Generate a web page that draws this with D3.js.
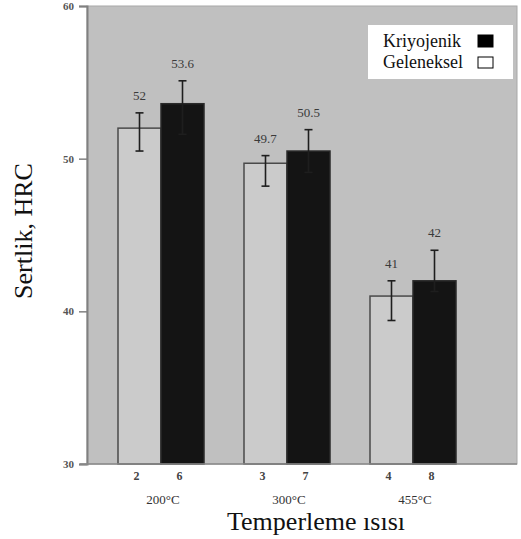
<!DOCTYPE html>
<html lang="tr">
<head>
<meta charset="UTF-8">
<title>Sertlik</title>
<script src="https://d3js.org/d3.v7.min.js"></script>
<style>
  body { margin: 0; background: #fff; }
  text { font-family: "Liberation Serif", "DejaVu Serif", serif; }
</style>
</head>
<body>
<svg id="canvas" width="521" height="539"></svg>
<script>
// data
const groups = ["200°C", "300°C", "455°C"];
const series = ["Geleneksel", "Kriyojenik"];
const geleneksel = [52, 49.7, 41];
const kriyojenik = [53.6, 50.5, 42];
const gelLow = [50.5, 48.2, 39.4];
const gelHigh = [53.0, 50.2, 42.0];
const kriLow = [51.6, 49.1, 41.3];
const kriHigh = [55.1, 51.9, 44.0];
const gelSample = ["2", "3", "4"];
const kriSample = ["6", "7", "8"];
const yTicks = [30, 40, 50, 60];

const colors = { Geleneksel: "#cbcbcb", Kriyojenik: "#141414" };

const rows = [];
groups.forEach((g, i) => {
  rows.push({ group: g, s: "Geleneksel", v: geleneksel[i], lo: gelLow[i], hi: gelHigh[i], id: gelSample[i] });
  rows.push({ group: g, s: "Kriyojenik", v: kriyojenik[i], lo: kriLow[i], hi: kriHigh[i], id: kriSample[i] });
});

const svg = d3.select("#canvas");
const plot = { left: 87, right: 517, top: 6, bottom: 464 };

const y = d3.scaleLinear().domain([30, 60]).range([plot.bottom, plot.top]);
const x0 = d3.scaleBand().domain(groups).range([98, 476]).padding(0);
const x1 = d3.scaleBand().domain(series).range([0, x0.bandwidth()]).paddingOuter(0.465).paddingInner(0);

// plot background
svg.append("rect")
  .attr("x", plot.left).attr("y", plot.top)
  .attr("width", plot.right - plot.left).attr("height", plot.bottom - plot.top)
  .attr("fill", "#c0c0c0")
  .attr("stroke", "#a8a8a8").attr("stroke-width", 1);

// bars
svg.selectAll(".bar")
  .data(rows)
  .enter()
  .append("rect")
  .attr("class", "bar")
  .attr("x", d => x0(d.group) + x1(d.s))
  .attr("y", d => y(d.v))
  .attr("width", x1.bandwidth())
  .attr("height", d => y(30) - y(d.v))
  .attr("fill", d => colors[d.s])
  .attr("stroke", d => d.s === "Geleneksel" ? "#4a4a4a" : "#2a2a2a")
  .attr("stroke-width", 1.5);

// error bars
const cx = d => x0(d.group) + x1(d.s) + x1.bandwidth() / 2;
const err = svg.selectAll(".err").data(rows).enter().append("g").attr("class", "err")
  .attr("stroke", "#1e1e1e").attr("stroke-width", 1.6);
err.append("line").attr("x1", cx).attr("x2", cx).attr("y1", d => y(d.lo)).attr("y2", d => y(d.hi));
err.append("line").attr("x1", d => cx(d) - 4).attr("x2", d => cx(d) + 4).attr("y1", d => y(d.lo)).attr("y2", d => y(d.lo));
err.append("line").attr("x1", d => cx(d) - 4).attr("x2", d => cx(d) + 4).attr("y1", d => y(d.hi)).attr("y2", d => y(d.hi));

// value labels
svg.selectAll(".val").data(rows).enter().append("text")
  .attr("class", "val")
  .attr("x", cx)
  .attr("y", d => y(d.hi) - 13)
  .attr("text-anchor", "middle")
  .attr("font-size", 13)
  .attr("fill", "#3a3a3a")
  .text(d => d.v);

// sample ids under bars
svg.selectAll(".sid").data(rows).enter().append("text")
  .attr("class", "sid")
  .attr("x", d => cx(d) - 3)
  .attr("y", 480)
  .attr("text-anchor", "middle")
  .attr("font-size", 12)
  .attr("font-weight", "bold")
  .attr("fill", "#444")
  .text(d => d.id);

// group labels
svg.selectAll(".grp").data(groups).enter().append("text")
  .attr("class", "grp")
  .attr("x", d => x0(d) + x0.bandwidth() / 2 + 2)
  .attr("y", 504)
  .attr("text-anchor", "middle")
  .attr("font-size", 13)
  .attr("fill", "#333")
  .text(d => d);

// y axis
const yAxis = svg.append("g")
  .attr("transform", `translate(${plot.left},0)`)
  .call(d3.axisLeft(y).tickValues(yTicks).tickSize(8).tickPadding(5));
yAxis.select(".domain").attr("stroke", "#808080").attr("stroke-width", 2);
yAxis.selectAll(".tick line").attr("stroke", "#808080").attr("stroke-width", 1.5);
yAxis.selectAll(".tick text")
  .attr("font-family", "Liberation Serif, serif")
  .attr("font-size", 11).attr("font-weight", "bold").attr("fill", "#555");

// bottom line
svg.append("line")
  .attr("x1", 80).attr("x2", plot.right)
  .attr("y1", plot.bottom).attr("y2", plot.bottom)
  .attr("stroke", "#8a8a8a").attr("stroke-width", 1.5);

// axis titles
svg.append("text")
  .attr("x", 316).attr("y", 530)
  .attr("text-anchor", "middle")
  .attr("font-size", 26)
  .attr("fill", "#111")
  .text("Temperleme ısısı");

svg.append("text")
  .attr("transform", "translate(32,231) rotate(-90)")
  .attr("text-anchor", "middle")
  .attr("font-size", 26)
  .attr("fill", "#111")
  .text("Sertlik, HRC");

// legend
const legend = svg.append("g");
legend.append("rect")
  .attr("x", 368).attr("y", 25).attr("width", 145).attr("height", 54)
  .attr("fill", "#fff");
const legItems = ["Kriyojenik", "Geleneksel"];
legItems.forEach((s, i) => {
  legend.append("text")
    .attr("x", 383).attr("y", 47 + i * 21)
    .attr("font-size", 18)
    .attr("fill", "#111")
    .text(s);
  legend.append("rect")
    .attr("x", 478).attr("y", 35 + i * 22)
    .attr("width", 15).attr("height", i === 0 ? 12 : 11)
    .attr("fill", s === "Kriyojenik" ? "#000" : "#fff")
    .attr("stroke", "#000").attr("stroke-width", 1);
});
</script>
</body>
</html>
